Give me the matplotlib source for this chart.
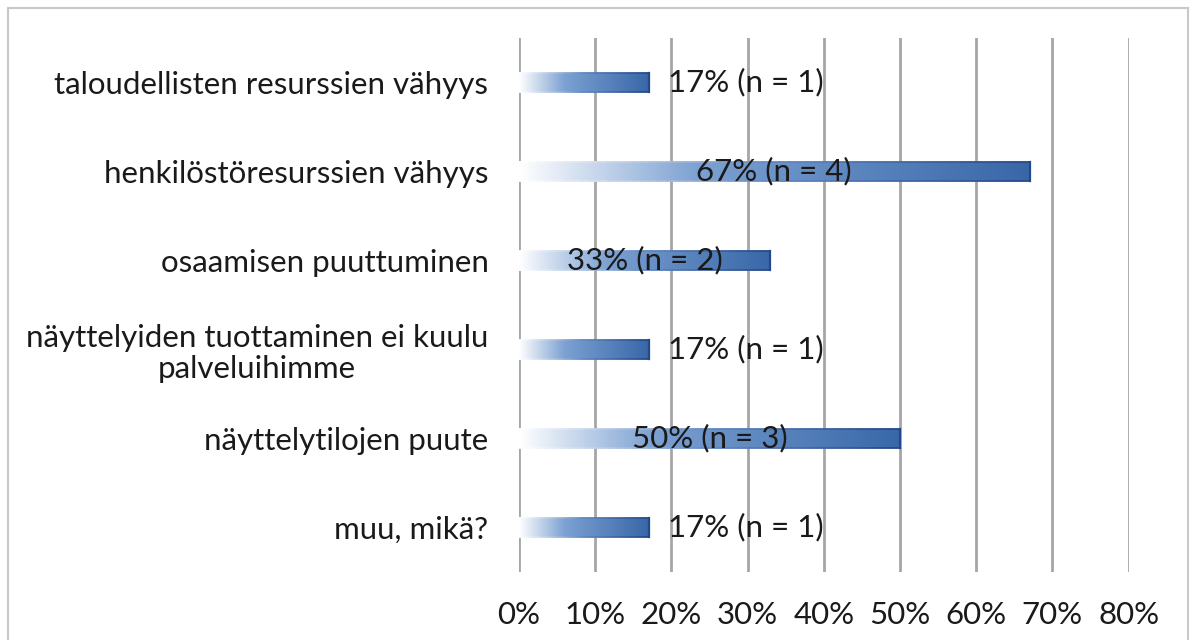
import numpy as np
import matplotlib
matplotlib.use("Agg")
import matplotlib.pyplot as plt
from matplotlib.colors import LinearSegmentedColormap
from matplotlib.collections import LineCollection
from matplotlib.patches import Rectangle

# data (top to bottom)
categories = [
    "taloudellisten resurssien vähyys",
    "henkilöstöresurssien vähyys",
    "osaamisen puuttuminen",
    "näyttelyiden tuottaminen ei kuulu\npalveluihimme",
    "näyttelytilojen puute",
    "muu, mikä?",
]
shares = [0.17, 0.67, 0.33, 0.17, 0.50, 0.17]
counts = [1, 4, 2, 1, 3, 1]
x_ticks = [0.0, 0.1, 0.2, 0.3, 0.4, 0.5, 0.6, 0.7, 0.8]

plt.rcParams['font.family'] = ['Lato', 'DejaVu Sans']
FS = 22.5

fig = plt.figure(figsize=(11.9, 6.4), dpi=100)
ax = fig.add_axes([519 / 1190, 68 / 640, 609.6 / 1190, 534 / 640])

# white -> blue gradient along each bar
grad = LinearSegmentedColormap.from_list(
    "bar", [(0.0, "#ffffff"), (0.35, "#7ca1d2"), (1.0, "#3867a8")])
edge = LinearSegmentedColormap.from_list(
    "edge", [(0.0, "#ffffff"), (0.5, "#5f88c2"), (1.0, "#24498a")])
ramp = np.linspace(0, 1, 256).reshape(1, -1)

bar_h = 0.21
y_pos = np.arange(len(categories))
for y, val, n in zip(y_pos, shares, counts):
    y0, y1 = y - bar_h / 2, y + bar_h / 2
    ax.imshow(ramp, cmap=grad, aspect="auto", interpolation="bilinear",
              extent=[0, val, y1, y0], zorder=2)
    # outline fading in from the left like the fill
    xs = np.linspace(0, val, 60)
    segs = []
    for yy in (y0, y1):
        segs += [[(xs[i], yy), (xs[i + 1], yy)] for i in range(len(xs) - 1)]
    cols = list(np.linspace(0, 1, len(xs) - 1)) * 2
    lc = LineCollection(segs, cmap=edge, linewidth=1.3, zorder=3)
    lc.set_array(np.array(cols))
    lc.set_clim(0, 1)
    ax.add_collection(lc)
    ax.plot([val, val], [y0, y1], color="#24498a", linewidth=1.6, zorder=3)

    label = "{:.0%} (n = {})".format(val, n)
    if val < 0.25:
        ax.text(val + 0.026, y, label, ha="left", va="center",
                fontsize=FS, color="#1a1a1a", zorder=4)
    else:
        ax.text(val / 2, y, label, ha="center", va="center",
                fontsize=FS, color="#1a1a1a", zorder=4)

ax.set_xlim(0, 0.8)
ax.set_ylim(len(categories) - 0.5, -0.5)
ax.set_xticks(x_ticks)
ax.set_xticklabels(["{:.0%}".format(t) for t in x_ticks])
ax.set_yticks(y_pos)
ax.set_yticklabels(categories)
for lbl in ax.get_yticklabels():
    lbl.set_multialignment("center")
    lbl.set_linespacing(1.15)

ax.grid(axis="x", color="#a6a6a6", linewidth=2, zorder=1)
ax.set_axisbelow(True)
for s in ax.spines.values():
    s.set_visible(False)
ax.tick_params(axis="both", length=0, labelsize=FS, labelcolor="#1a1a1a")
ax.tick_params(axis="y", pad=22)
ax.tick_params(axis="x", pad=21)

# outer chart border
fig.add_artist(Rectangle((8 / 1190, -0.01), 1180 / 1190, 1.01 - 8 / 640,
                         transform=fig.transFigure, fill=False,
                         edgecolor="#c8c8c8", linewidth=1.5))

fig.savefig("out.png", dpi=100)
